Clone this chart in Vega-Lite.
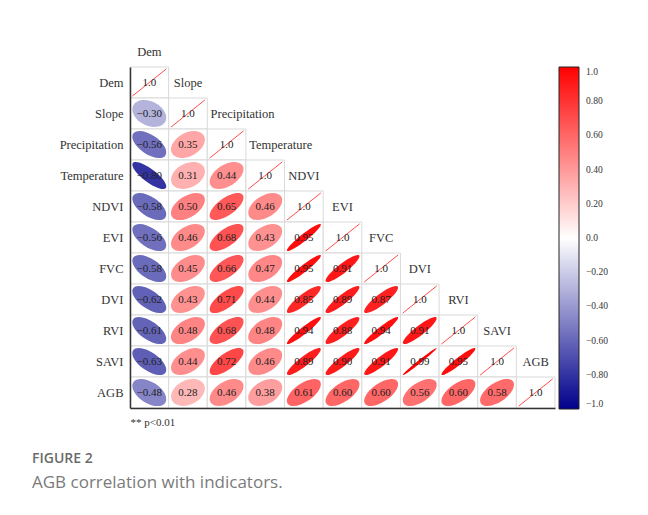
{
  "$schema": "https://vega.github.io/schema/vega-lite/v6.json",
  "width": 425,
  "height": 341,
  "autosize": {"type": "none"},
  "padding": {"left": 130, "top": 67, "right": 93, "bottom": 107},
  "background": "white",
  "config": {"view": {"stroke": null}, "font": "Liberation Serif"},
  "title": {
    "text": "FIGURE 2",
    "subtitle": "AGB correlation with indicators.",
    "orient": "bottom",
    "anchor": "start",
    "frame": "group",
    "dx": -98,
    "offset": 25,
    "font": "Open Sans",
    "fontSize": 14,
    "fontWeight": 600,
    "color": "#6b6b6b",
    "subtitleFont": "Open Sans",
    "subtitleFontSize": 17,
    "subtitleColor": "#7a7a7a",
    "subtitlePadding": 9
  },
  "datasets": {
    "cells": [
      {"row": "Dem", "col": "Dem", "r": 1},
      {"row": "Slope", "col": "Dem", "r": -0.30},
      {"row": "Slope", "col": "Slope", "r": 1},
      {"row": "Precipitation", "col": "Dem", "r": -0.56},
      {"row": "Precipitation", "col": "Slope", "r": 0.35},
      {"row": "Precipitation", "col": "Precipitation", "r": 1},
      {"row": "Temperature", "col": "Dem", "r": -0.80},
      {"row": "Temperature", "col": "Slope", "r": 0.31},
      {"row": "Temperature", "col": "Precipitation", "r": 0.44},
      {"row": "Temperature", "col": "Temperature", "r": 1},
      {"row": "NDVI", "col": "Dem", "r": -0.58},
      {"row": "NDVI", "col": "Slope", "r": 0.50},
      {"row": "NDVI", "col": "Precipitation", "r": 0.65},
      {"row": "NDVI", "col": "Temperature", "r": 0.46},
      {"row": "NDVI", "col": "NDVI", "r": 1},
      {"row": "EVI", "col": "Dem", "r": -0.56},
      {"row": "EVI", "col": "Slope", "r": 0.46},
      {"row": "EVI", "col": "Precipitation", "r": 0.68},
      {"row": "EVI", "col": "Temperature", "r": 0.43},
      {"row": "EVI", "col": "NDVI", "r": 0.95},
      {"row": "EVI", "col": "EVI", "r": 1},
      {"row": "FVC", "col": "Dem", "r": -0.58},
      {"row": "FVC", "col": "Slope", "r": 0.45},
      {"row": "FVC", "col": "Precipitation", "r": 0.66},
      {"row": "FVC", "col": "Temperature", "r": 0.47},
      {"row": "FVC", "col": "NDVI", "r": 0.95},
      {"row": "FVC", "col": "EVI", "r": 0.91},
      {"row": "FVC", "col": "FVC", "r": 1},
      {"row": "DVI", "col": "Dem", "r": -0.62},
      {"row": "DVI", "col": "Slope", "r": 0.43},
      {"row": "DVI", "col": "Precipitation", "r": 0.71},
      {"row": "DVI", "col": "Temperature", "r": 0.44},
      {"row": "DVI", "col": "NDVI", "r": 0.85},
      {"row": "DVI", "col": "EVI", "r": 0.89},
      {"row": "DVI", "col": "FVC", "r": 0.87},
      {"row": "DVI", "col": "DVI", "r": 1},
      {"row": "RVI", "col": "Dem", "r": -0.61},
      {"row": "RVI", "col": "Slope", "r": 0.48},
      {"row": "RVI", "col": "Precipitation", "r": 0.68},
      {"row": "RVI", "col": "Temperature", "r": 0.48},
      {"row": "RVI", "col": "NDVI", "r": 0.94},
      {"row": "RVI", "col": "EVI", "r": 0.88},
      {"row": "RVI", "col": "FVC", "r": 0.94},
      {"row": "RVI", "col": "DVI", "r": 0.91},
      {"row": "RVI", "col": "RVI", "r": 1},
      {"row": "SAVI", "col": "Dem", "r": -0.63},
      {"row": "SAVI", "col": "Slope", "r": 0.44},
      {"row": "SAVI", "col": "Precipitation", "r": 0.72},
      {"row": "SAVI", "col": "Temperature", "r": 0.46},
      {"row": "SAVI", "col": "NDVI", "r": 0.89},
      {"row": "SAVI", "col": "EVI", "r": 0.90},
      {"row": "SAVI", "col": "FVC", "r": 0.91},
      {"row": "SAVI", "col": "DVI", "r": 0.99},
      {"row": "SAVI", "col": "RVI", "r": 0.95},
      {"row": "SAVI", "col": "SAVI", "r": 1},
      {"row": "AGB", "col": "Dem", "r": -0.48},
      {"row": "AGB", "col": "Slope", "r": 0.28},
      {"row": "AGB", "col": "Precipitation", "r": 0.46},
      {"row": "AGB", "col": "Temperature", "r": 0.38},
      {"row": "AGB", "col": "NDVI", "r": 0.61},
      {"row": "AGB", "col": "EVI", "r": 0.60},
      {"row": "AGB", "col": "FVC", "r": 0.60},
      {"row": "AGB", "col": "DVI", "r": 0.56},
      {"row": "AGB", "col": "RVI", "r": 0.60},
      {"row": "AGB", "col": "SAVI", "r": 0.58},
      {"row": "AGB", "col": "AGB", "r": 1}
    ],
    "vars": [
      {"name": "Dem"}, {"name": "Slope"}, {"name": "Precipitation"}, {"name": "Temperature"},
      {"name": "NDVI"}, {"name": "EVI"}, {"name": "FVC"}, {"name": "DVI"},
      {"name": "RVI"}, {"name": "SAVI"}, {"name": "AGB"}
    ]
  },
  "data": {"name": "cells"},
  "encoding": {
    "x": {
      "field": "col",
      "type": "nominal",
      "scale": {"domain": ["Dem", "Slope", "Precipitation", "Temperature", "NDVI", "EVI", "FVC", "DVI", "RVI", "SAVI", "AGB"], "paddingInner": 0, "paddingOuter": 0},
      "axis": {"orient": "bottom", "labels": false, "ticks": false, "grid": false, "domainColor": "#333", "domainWidth": 1.5, "zindex": 2, "title": "** p<0.01", "titleAnchor": "start", "titleAlign": "left", "titleFont": "Liberation Serif", "titleFontSize": 11, "titleFontWeight": "normal", "titleColor": "#333", "titlePadding": 8}
    },
    "y": {
      "field": "row",
      "type": "nominal",
      "scale": {"domain": ["Dem", "Slope", "Precipitation", "Temperature", "NDVI", "EVI", "FVC", "DVI", "RVI", "SAVI", "AGB"], "paddingInner": 0, "paddingOuter": 0},
      "axis": {"title": null, "ticks": false, "grid": false, "domainColor": "#333", "domainWidth": 1.5, "zindex": 2, "labelPadding": 7, "labelFont": "Liberation Serif", "labelFontSize": 12.5, "labelColor": "#333"}
    }
  },
  "layer": [
    {
      "mark": {"type": "rect", "fill": "white", "stroke": "#d9d9d9", "strokeWidth": 1}
    },
    {
      "transform": [{"filter": "datum.r < 1"}],
      "mark": {"type": "point", "filled": true, "opacity": 1, "size": 1493, "strokeWidth": 0},
      "encoding": {
        "color": {
          "field": "r",
          "type": "quantitative",
          "scale": {"domain": [-1, 0, 1], "range": ["#00008b", "#ffffff", "#ff0000"], "interpolate": "rgb"},
          "legend": {"orient": "none", "legendX": 429, "legendY": 0, "title": null, "padding": 0, "gradientLength": 342, "gradientThickness": 20, "gradientStrokeColor": "#222", "gradientStrokeWidth": 1, "values": [-1, -0.8, -0.6, -0.4, -0.2, 0, 0.2, 0.4, 0.6, 0.8, 1], "labelExpr": "datum.value == 0 || abs(datum.value) == 1 ? format(datum.value, '.1f') : format(datum.value, '.2f')", "labelOffset": 7, "labelFont": "Liberation Serif", "labelFontSize": 9.5, "labelColor": "#333", "labelBaseline": "middle", "labelOverlap": false}
        },
        "shape": {
          "field": "r",
          "type": "nominal",
          "legend": null,
          "scale": {
            "domain": [-0.30, -0.48, -0.56, -0.58, -0.61, -0.62, -0.63, -0.80, 0.28, 0.31, 0.35, 0.38, 0.43, 0.44, 0.45, 0.46, 0.47, 0.48, 0.50, 0.56, 0.58, 0.60, 0.61, 0.65, 0.66, 0.68, 0.71, 0.72, 0.85, 0.87, 0.88, 0.89, 0.90, 0.91, 0.94, 0.95, 0.99],
            "range": [
              "M 0.8325 0.4203 A 0.9326 0.6326 26.79 0 1 -0.8325 -0.4203 A 0.9326 0.6326 26.79 0 1 0.8325 0.4203 Z",
              "M 0.8287 0.5314 A 0.9844 0.5486 32.67 0 1 -0.8287 -0.5314 A 0.9844 0.5486 32.67 0 1 0.8287 0.5314 Z",
              "M 0.8328 0.5666 A 1.0073 0.5053 34.23 0 1 -0.8328 -0.5666 A 1.0073 0.5053 34.23 0 1 0.8328 0.5666 Z",
              "M 0.8328 0.5666 A 1.0073 0.5053 34.23 0 1 -0.8328 -0.5666 A 1.0073 0.5053 34.23 0 1 0.8328 0.5666 Z",
              "M 0.8362 0.5843 A 1.0201 0.4789 34.95 0 1 -0.8362 -0.5843 A 1.0201 0.4789 34.95 0 1 0.8362 0.5843 Z",
              "M 0.8362 0.5843 A 1.0201 0.4789 34.95 0 1 -0.8362 -0.5843 A 1.0201 0.4789 34.95 0 1 0.8362 0.5843 Z",
              "M 0.8362 0.5843 A 1.0201 0.4789 34.95 0 1 -0.8362 -0.5843 A 1.0201 0.4789 34.95 0 1 0.8362 0.5843 Z",
              "M 0.8546 0.6476 A 1.0723 0.3466 37.14 0 1 -0.8546 -0.6476 A 1.0723 0.3466 37.14 0 1 0.8546 0.6476 Z",
              "M 0.835 -0.400 A 0.926 0.642 -25.6 0 1 -0.835 0.400 A 0.926 0.642 -25.6 0 1 0.835 -0.400 Z",
              "M 0.8325 -0.4203 A 0.9326 0.6326 -26.79 0 1 -0.8325 0.4203 A 0.9326 0.6326 -26.79 0 1 0.8325 -0.4203 Z",
              "M 0.8293 -0.4528 A 0.9449 0.6142 -28.63 0 1 -0.8293 0.4528 A 0.9449 0.6142 -28.63 0 1 0.8293 -0.4528 Z",
              "M 0.8282 -0.4720 A 0.9532 0.6012 -29.68 0 1 -0.8282 0.4720 A 0.9532 0.6012 -29.68 0 1 0.8282 -0.4720 Z",
              "M 0.8276 -0.5115 A 0.9730 0.5686 -31.72 0 1 -0.8276 0.5115 A 0.9730 0.5686 -31.72 0 1 0.8276 -0.5115 Z",
              "M 0.8276 -0.5115 A 0.9730 0.5686 -31.72 0 1 -0.8276 0.5115 A 0.9730 0.5686 -31.72 0 1 0.8276 -0.5115 Z",
              "M 0.8276 -0.5115 A 0.9730 0.5686 -31.72 0 1 -0.8276 0.5115 A 0.9730 0.5686 -31.72 0 1 0.8276 -0.5115 Z",
              "M 0.8276 -0.5115 A 0.9730 0.5686 -31.72 0 1 -0.8276 0.5115 A 0.9730 0.5686 -31.72 0 1 0.8276 -0.5115 Z",
              "M 0.8276 -0.5115 A 0.9730 0.5686 -31.72 0 1 -0.8276 0.5115 A 0.9730 0.5686 -31.72 0 1 0.8276 -0.5115 Z",
              "M 0.8287 -0.5314 A 0.9844 0.5486 -32.67 0 1 -0.8287 0.5314 A 0.9844 0.5486 -32.67 0 1 0.8287 -0.5314 Z",
              "M 0.8287 -0.5314 A 0.9844 0.5486 -32.67 0 1 -0.8287 0.5314 A 0.9844 0.5486 -32.67 0 1 0.8287 -0.5314 Z",
              "M 0.8328 -0.5666 A 1.0073 0.5053 -34.23 0 1 -0.8328 0.5666 A 1.0073 0.5053 -34.23 0 1 0.8328 -0.5666 Z",
              "M 0.8328 -0.5666 A 1.0073 0.5053 -34.23 0 1 -0.8328 0.5666 A 1.0073 0.5053 -34.23 0 1 0.8328 -0.5666 Z",
              "M 0.8362 -0.5843 A 1.0201 0.4789 -34.95 0 1 -0.8362 0.5843 A 1.0201 0.4789 -34.95 0 1 0.8362 -0.5843 Z",
              "M 0.8362 -0.5843 A 1.0201 0.4789 -34.95 0 1 -0.8362 0.5843 A 1.0201 0.4789 -34.95 0 1 0.8362 -0.5843 Z",
              "M 0.8400 -0.6012 A 1.0330 0.4506 -35.59 0 1 -0.8400 0.6012 A 1.0330 0.4506 -35.59 0 1 0.8400 -0.6012 Z",
              "M 0.8400 -0.6012 A 1.0330 0.4506 -35.59 0 1 -0.8400 0.6012 A 1.0330 0.4506 -35.59 0 1 0.8400 -0.6012 Z",
              "M 0.8400 -0.6012 A 1.0330 0.4506 -35.59 0 1 -0.8400 0.6012 A 1.0330 0.4506 -35.59 0 1 0.8400 -0.6012 Z",
              "M 0.8453 -0.6203 A 1.0485 0.4131 -36.27 0 1 -0.8453 0.6203 A 1.0485 0.4131 -36.27 0 1 0.8453 -0.6203 Z",
              "M 0.8453 -0.6203 A 1.0485 0.4131 -36.27 0 1 -0.8453 0.6203 A 1.0485 0.4131 -36.27 0 1 0.8453 -0.6203 Z",
              "M 0.8624 -0.6669 A 1.0903 0.2851 -37.71 0 1 -0.8624 0.6669 A 1.0903 0.2851 -37.71 0 1 0.8624 -0.6669 Z",
              "M 0.8624 -0.6669 A 1.0903 0.2851 -37.71 0 1 -0.8624 0.6669 A 1.0903 0.2851 -37.71 0 1 0.8624 -0.6669 Z",
              "M 0.8624 -0.6669 A 1.0903 0.2851 -37.71 0 1 -0.8624 0.6669 A 1.0903 0.2851 -37.71 0 1 0.8624 -0.6669 Z",
              "M 0.8668 -0.6769 A 1.0999 0.2455 -37.98 0 1 -0.8668 0.6769 A 1.0999 0.2455 -37.98 0 1 0.8668 -0.6769 Z",
              "M 0.8668 -0.6769 A 1.0999 0.2455 -37.98 0 1 -0.8668 0.6769 A 1.0999 0.2455 -37.98 0 1 0.8668 -0.6769 Z",
              "M 0.8668 -0.6769 A 1.0999 0.2455 -37.98 0 1 -0.8668 0.6769 A 1.0999 0.2455 -37.98 0 1 0.8668 -0.6769 Z",
              "M 0.8727 -0.6893 A 1.1121 0.1822 -38.30 0 1 -0.8727 0.6893 A 1.1121 0.1822 -38.30 0 1 0.8727 -0.6893 Z",
              "M 0.8727 -0.6893 A 1.1121 0.1822 -38.30 0 1 -0.8727 0.6893 A 1.1121 0.1822 -38.30 0 1 0.8727 -0.6893 Z",
              "M 0.8786 -0.7015 A 1.1243 0.0777 -38.60 0 1 -0.8786 0.7015 A 1.1243 0.0777 -38.60 0 1 0.8786 -0.7015 Z"
            ]
          }
        }
      }
    },
    {
      "transform": [{"filter": "datum.r == 1"}],
      "mark": {"type": "point", "filled": false, "size": 1493, "color": "#ff2020", "strokeWidth": 0.8, "opacity": 1, "shape": "M -0.88 0.704 L 0.88 -0.704"}
    },
    {
      "transform": [{"filter": "datum.r < 1"}],
      "mark": {"type": "text", "font": "Liberation Serif", "fontSize": 11, "color": "#222", "baseline": "middle", "align": "center"},
      "encoding": {"text": {"field": "r", "type": "quantitative", "format": ".2f"}}
    },
    {
      "transform": [{"filter": "datum.r == 1"}],
      "mark": {"type": "text", "font": "Liberation Serif", "fontSize": 11, "color": "#222", "baseline": "middle", "align": "center"},
      "encoding": {"text": {"field": "r", "type": "quantitative", "format": ".1f"}}
    },
    {
      "data": {"name": "vars"},
      "mark": {
        "type": "text",
        "font": "Liberation Serif",
        "fontSize": 12.5,
        "color": "#333",
        "baseline": "middle",
        "dy": -31,
        "align": {"expr": "length(datum.name) > 8 ? 'left' : 'center'"},
        "dx": {"expr": "length(datum.name) > 8 ? -16 : 0"}
      },
      "encoding": {
        "x": {"field": "name", "type": "nominal"},
        "y": {"field": "name", "type": "nominal"},
        "text": {"field": "name", "type": "nominal"}
      }
    }
  ]
}
